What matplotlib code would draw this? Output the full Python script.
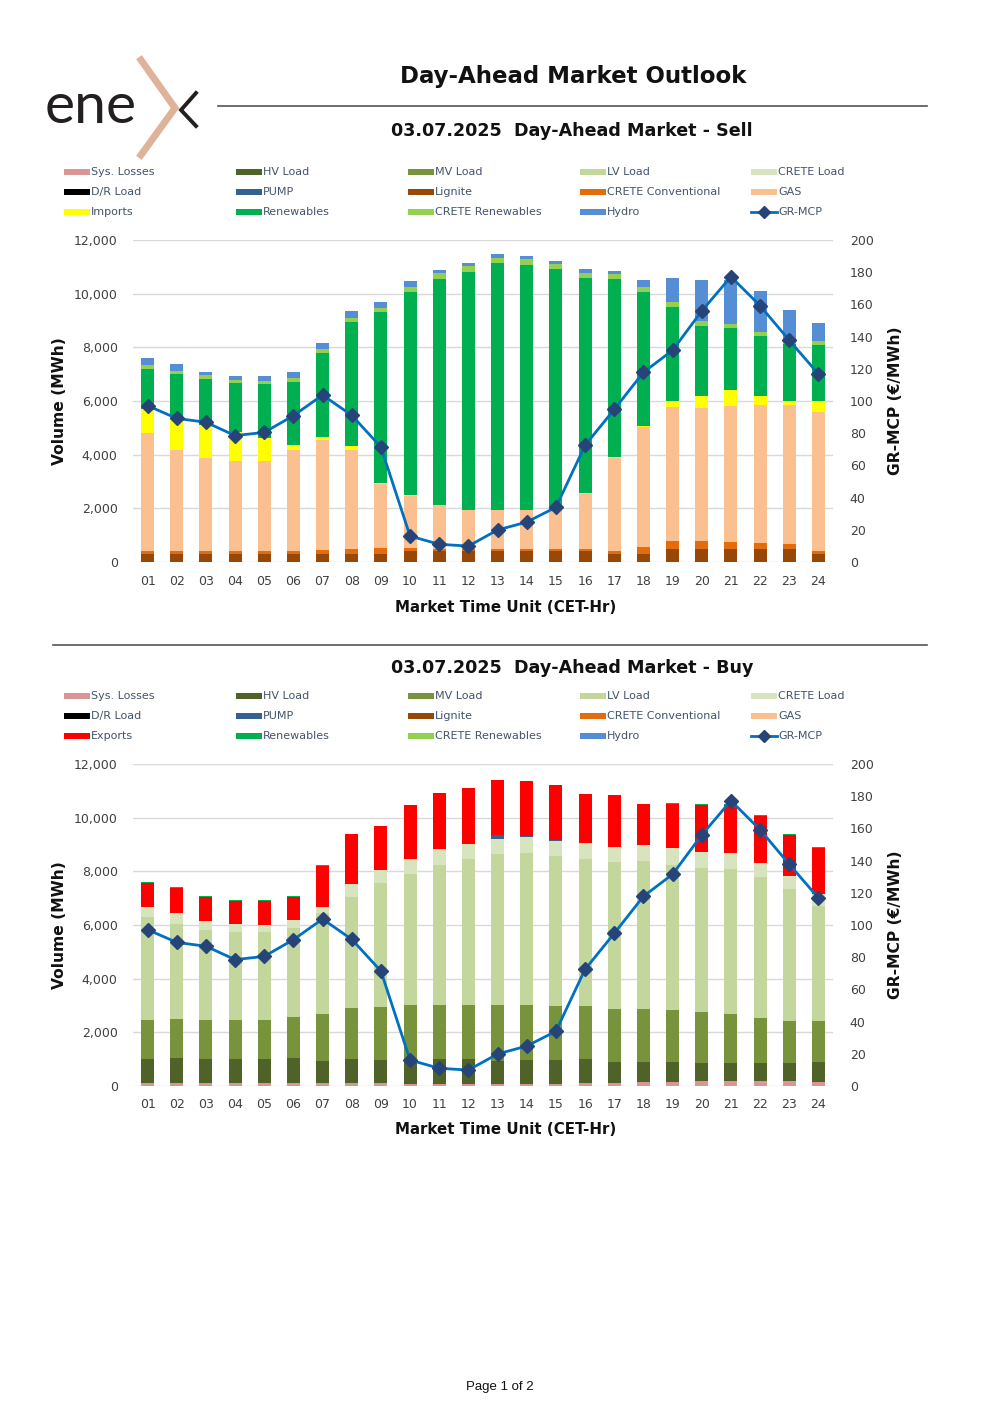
import matplotlib
matplotlib.use("Agg")
import matplotlib.pyplot as plt
from matplotlib.lines import Line2D
from matplotlib.patches import Rectangle
import numpy as np

# ---------------- data ----------------
hours = ["01", "02", "03", "04", "05", "06", "07", "08", "09", "10", "11", "12",
         "13", "14", "15", "16", "17", "18", "19", "20", "21", "22", "23", "24"]

price = [97.1, 89.2, 86.8, 78.5, 80.5, 90.9, 103.7, 91.1, 71.4, 16.1, 11.0, 9.9,
         19.9, 24.8, 34.0, 72.5, 94.8, 117.8, 131.5, 155.9, 177.2, 159.2, 137.7, 116.8]

# Sell side (MWh)
sell_lignite = [311, 311, 311, 311, 311, 311, 311, 311, 311, 410, 410, 410,
                398, 398, 398, 398, 299, 299, 485, 485, 485, 485, 485, 286]
sell_crete_conv = [112, 112, 112, 112, 112, 112, 124, 186, 199, 100, 87, 87,
                   99, 99, 87, 87, 124, 273, 286, 286, 274, 224, 199, 137]
sell_gas = [4366, 3768, 3445, 3333, 3346, 3744, 4105, 3694, 2400, 1965, 1617, 1431,
            1431, 1431, 1443, 2052, 3445, 4453, 5013, 4963, 5037, 5124, 5149, 5162]
sell_imports = [895, 1244, 1256, 1095, 870, 211, 124, 125, 50, 37, 25, 25,
                25, 25, 25, 38, 50, 37, 199, 448, 597, 361, 174, 422]
sell_renew = [1493, 1567, 1692, 1816, 1978, 2338, 3110, 4627, 6343, 7538, 8421, 8855,
              9179, 9129, 8955, 8010, 6629, 5013, 3532, 2624, 2326, 2226, 2115, 2078]
sell_crete_ren = [149, 125, 149, 124, 124, 125, 149, 149, 162, 186, 199, 212,
                  199, 224, 211, 199, 199, 174, 162, 162, 149, 137, 124, 149]
sell_hydro = [286, 236, 112, 137, 187, 224, 249, 249, 236, 224, 124, 124,
              137, 112, 100, 124, 87, 273, 895, 1554, 1654, 1555, 1157, 671]

# Buy side (MWh)
buy_sys_losses = [124, 124, 124, 124, 124, 124, 124, 124, 99, 87, 62, 62,
                  62, 62, 62, 100, 124, 149, 162, 174, 174, 174, 174, 162]
buy_hv = [871, 933, 896, 896, 896, 908, 809, 871, 859, 908, 933, 933,
          883, 908, 908, 895, 759, 759, 721, 684, 684, 684, 684, 721]
buy_mv = [1455, 1455, 1430, 1430, 1455, 1555, 1766, 1928, 2002, 2015, 2027, 2040,
          2065, 2040, 2015, 1978, 1978, 1978, 1953, 1916, 1829, 1679, 1580, 1530]
buy_lv = [3831, 3533, 3346, 3271, 3246, 3284, 3756, 4104, 4602, 4900, 5199, 5410,
          5647, 5684, 5597, 5497, 5472, 5485, 5410, 5360, 5398, 5237, 4913, 4279]
buy_crete = [373, 398, 361, 311, 286, 323, 224, 498, 498, 560, 622, 585,
             559, 572, 547, 572, 560, 597, 610, 585, 584, 547, 485, 460]
buy_pump = [0, 0, 0, 0, 0, 0, 0, 0, 0, 0, 0, 0,
            124, 37, 38, 0, 0, 0, 0, 0, 0, 0, 0, 0]
buy_exports = [896, 920, 870, 846, 871, 833, 1505, 1853, 1629, 1990, 2090, 2089,
               2078, 2065, 2039, 1841, 1940, 1530, 1666, 1741, 1816, 1741, 1517, 1704]
buy_renew = [50, 37, 38, 37, 37, 38, 37, 0, 0, 0, 0, 0,
             0, 0, 0, 0, 0, 24, 38, 38, 37, 38, 38, 49]

# ---------------- styles ----------------
C = {
    "Sys. Losses": "#d99694", "HV Load": "#4f6228", "MV Load": "#77933c",
    "LV Load": "#c3d69b", "CRETE Load": "#d7e4bd", "D/R Load": "#000000",
    "PUMP": "#366092", "Lignite": "#974706", "CRETE Conventional": "#e46c0a",
    "GAS": "#fac090", "Imports": "#ffff00", "Exports": "#ff0000",
    "Renewables": "#00b050", "CRETE Renewables": "#92d050", "Hydro": "#558ed5",
}
LINE_C = "#0070c0"
MARK_C = "#264478"
TXT = "#404040"
LEG_TXT = "#44546a"
FONT = "DejaVu Sans"

plt.rcParams["font.family"] = [FONT]

W, H = 1000, 1415
fig = plt.figure(figsize=(W / 100, H / 100), dpi=100)
fig.patch.set_facecolor("white")


def fx(px):
    return px / W


def fy(py):
    return 1 - py / H


# ---------------- logo ----------------
fig.text(fx(45), fy(123), "ene", fontsize=41, color="#231f20", family="Lato",
         fontweight="normal", ha="left", va="baseline")
fig.add_artist(Line2D([fx(141), fx(175), fx(141)], [fy(60), fy(108), fy(155)],
                      color="#dfb29a", lw=5, solid_joinstyle="miter"))
fig.add_artist(Line2D([fx(196), fx(181), fx(196)], [fy(93), fy(110), fy(126)],
                      color="#231f20", lw=2.8, solid_joinstyle="miter"))

# ---------------- titles and rules ----------------
fig.text(fx(573), fy(76), "Day-Ahead Market Outlook", fontsize=16.5, fontweight="bold",
         color="#111111", ha="center", va="center")
fig.add_artist(Line2D([fx(218), fx(927)], [fy(106), fy(106)], color="#555555", lw=1.2))
fig.add_artist(Line2D([fx(53), fx(927)], [fy(645), fy(645)], color="#555555", lw=1.2))
fig.text(fx(572), fy(131), "03.07.2025  Day-Ahead Market - Sell", fontsize=12.6,
         fontweight="bold", color="#111111", ha="center", va="center")
fig.text(fx(572), fy(668), "03.07.2025  Day-Ahead Market - Buy", fontsize=12.6,
         fontweight="bold", color="#111111", ha="center", va="center")
fig.text(fx(500), fy(1387), "Page 1 of 2", fontsize=9.5, color="#111111",
         family="Liberation Sans", ha="center", va="center")

# ---------------- legends ----------------
col_x = [64, 236, 408, 580, 751]


def draw_legend(top_y, names):
    for i, name in enumerate(names):
        r, c = divmod(i, 5)
        x0 = col_x[c]
        y0 = top_y + r * 20
        if name == "GR-MCP":
            fig.add_artist(Line2D([fx(x0), fx(x0 + 26)], [fy(y0), fy(y0)],
                                  color=LINE_C, lw=2))
            fig.add_artist(Line2D([fx(x0 + 13)], [fy(y0)], marker="D", ms=6,
                                  color=MARK_C, lw=0))
        else:
            fig.add_artist(Rectangle((fx(x0), fy(y0 + 3)), 26 / W, 6 / H,
                                     facecolor=C[name], edgecolor="none",
                                     transform=fig.transFigure))
        fig.text(fx(x0 + 27), fy(y0), name, fontsize=8.0, color=LEG_TXT,
                 ha="left", va="center")


sell_names = ["Sys. Losses", "HV Load", "MV Load", "LV Load", "CRETE Load",
              "D/R Load", "PUMP", "Lignite", "CRETE Conventional", "GAS",
              "Imports", "Renewables", "CRETE Renewables", "Hydro", "GR-MCP"]
buy_names = ["Sys. Losses", "HV Load", "MV Load", "LV Load", "CRETE Load",
             "D/R Load", "PUMP", "Lignite", "CRETE Conventional", "GAS",
             "Exports", "Renewables", "CRETE Renewables", "Hydro", "GR-MCP"]
draw_legend(172, sell_names)
draw_legend(696, buy_names)

# ---------------- charts ----------------
x = np.arange(len(hours))


def make_chart(top_px, bottom_px, stacks, xlabel_y):
    ax = fig.add_axes([fx(133), fy(bottom_px), fx(833) - fx(133),
                       fy(top_px) - fy(bottom_px)])
    bottom = np.zeros(len(hours))
    for name, vals in stacks:
        v = np.array(vals, dtype=float)
        ax.bar(x, v, bottom=bottom, width=0.45, color=C[name], edgecolor="none",
               zorder=2)
        bottom += v
    ax.set_xlim(-0.5, len(hours) - 0.5)
    ax.set_ylim(0, 12000)
    ax.set_yticks(np.arange(0, 12001, 2000))
    ax.set_yticklabels([f"{v:,}" for v in range(0, 12001, 2000)])
    ax.set_xticks(x)
    ax.set_xticklabels(hours)
    ax.yaxis.grid(True, color="#d9d9d9", lw=1, zorder=0)
    ax.set_axisbelow(True)
    for s in ax.spines.values():
        s.set_visible(False)
    ax.tick_params(axis="both", length=0, labelsize=9, colors=TXT)
    ax.tick_params(axis="y", pad=11)
    ax.tick_params(axis="x", pad=9)
    mid = (top_px + bottom_px) / 2
    fig.text(fx(60), fy(mid), "Volume (MWh)", fontsize=11.2, fontweight="bold",
             color="#111111", rotation=90, ha="center", va="center")
    fig.text(fx(506), fy(xlabel_y), "Market Time Unit (CET-Hr)", fontsize=10.8,
             fontweight="bold", color="#111111", ha="center", va="center")

    ax2 = ax.twinx()
    ax2.plot(x, price, color=LINE_C, lw=2, marker="D", ms=7.5,
             markerfacecolor=MARK_C, markeredgecolor=MARK_C, zorder=5)
    ax2.set_ylim(0, 200)
    ax2.set_yticks(np.arange(0, 201, 20))
    for s in ax2.spines.values():
        s.set_visible(False)
    ax2.tick_params(axis="y", length=0, labelsize=9, colors=TXT, pad=12)
    fig.text(fx(895), fy(mid), "GR-MCP (€/MWh)", fontsize=11.2, fontweight="bold",
             color="#111111", rotation=90, ha="center", va="center")
    return ax


make_chart(240, 562, [("Lignite", sell_lignite),
                      ("CRETE Conventional", sell_crete_conv),
                      ("GAS", sell_gas),
                      ("Imports", sell_imports),
                      ("Renewables", sell_renew),
                      ("CRETE Renewables", sell_crete_ren),
                      ("Hydro", sell_hydro)], 607)

make_chart(764, 1086, [("Sys. Losses", buy_sys_losses),
                       ("HV Load", buy_hv),
                       ("MV Load", buy_mv),
                       ("LV Load", buy_lv),
                       ("CRETE Load", buy_crete),
                       ("PUMP", buy_pump),
                       ("Exports", buy_exports),
                       ("Renewables", buy_renew)], 1130)

fig.savefig("out.png", dpi=100, facecolor="white")
